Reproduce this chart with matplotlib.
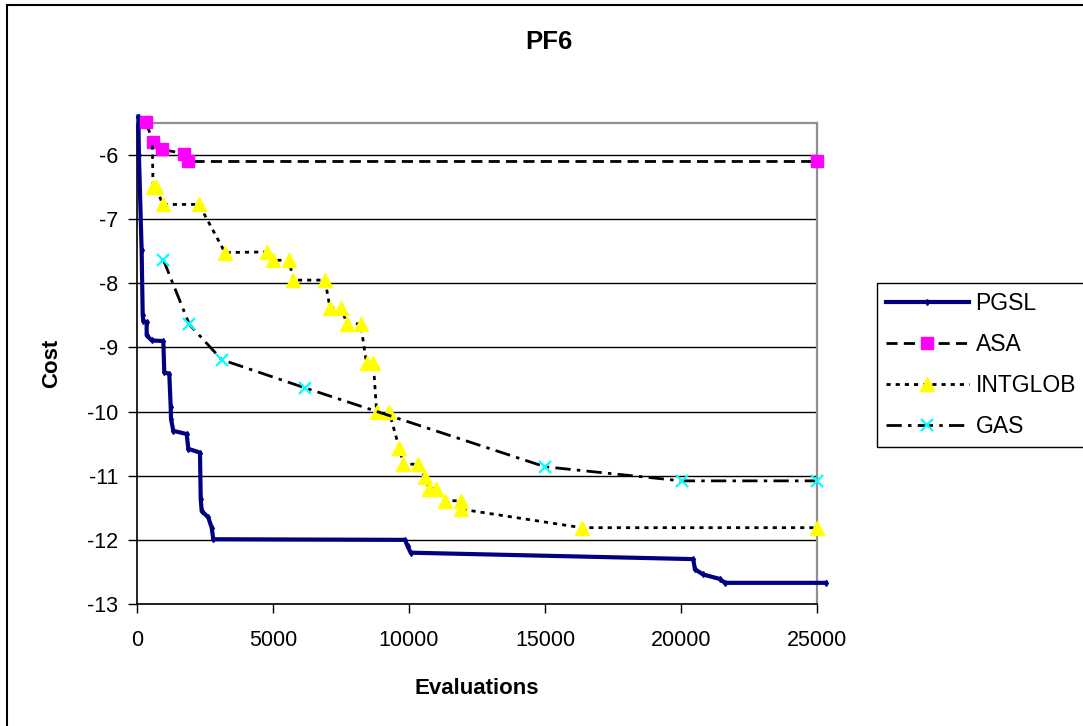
import matplotlib
matplotlib.use('Agg')
import matplotlib.pyplot as plt
from matplotlib.patches import Rectangle

plt.rcParams['font.family'] = ['Liberation Sans', 'DejaVu Sans']
plt.rcParams['axes.unicode_minus'] = False
plt.rcParams['lines.scale_dashes'] = False

# ---- data ----
pgsl_x = [50, 70, 170, 210, 230, 355, 355, 540, 967, 1004, 1187, 1239, 1250, 1334,
          1827, 1886, 2316, 2342, 2378, 2621, 2746, 2805, 9853, 9950, 10061,
          20450, 20512, 20817, 21430, 21615, 25330]
pgsl_y = [-5.4, -6.0, -7.48, -8.5, -8.58, -8.61, -8.81, -8.89, -8.90, -9.39, -9.41, -9.93,
          -10.11, -10.30, -10.35, -10.58, -10.64, -11.36, -11.55, -11.65, -11.81, -11.99,
          -12.0, -12.1, -12.2, -12.3, -12.46, -12.54, -12.61, -12.67, -12.67]

asa_x = [320, 600, 907, 1740, 1860, 25000]
asa_y = [-5.49, -5.79, -5.91, -5.98, -6.10, -6.10]

intglob_x = [563, 590, 700, 944, 2280, 3235, 4770, 4990, 5590, 5750, 6910, 7095, 7490,
             7730, 8220, 8440, 8690, 8811, 9275, 9642, 9789, 10341, 10587, 10734, 10991,
             11322, 11899, 11899, 16347, 25000]
intglob_y = [-5.85, -6.5, -6.5, -6.77, -6.77, -7.52, -7.51, -7.64, -7.64, -7.95, -7.95,
             -8.38, -8.38, -8.63, -8.63, -9.25, -9.25, -10.01, -10.01, -10.57, -10.82,
             -10.82, -11.02, -11.20, -11.20, -11.39, -11.39, -11.52, -11.81, -11.81]

gas_x = [967, 1923, 3113, 6176, 14998, 20022, 25000]
gas_y = [-7.63, -8.64, -9.19, -9.63, -10.86, -11.08, -11.08]

x_ticks = [0, 5000, 10000, 15000, 20000, 25000]
y_ticks = [-13, -12, -11, -10, -9, -8, -7, -6]

W, H = 1083, 726
fig = plt.figure(figsize=(W / 100, H / 100), dpi=100)
fig.patch.set_facecolor('white')
ax = fig.add_axes([137 / W, 1 - 604 / H, (817 - 137) / W, (604 - 123) / H])

ax.set_xlim(0, 25000)
ax.set_ylim(-13, -5.5)
ax.set_xticks(x_ticks)
ax.set_yticks(y_ticks)
ax.yaxis.grid(True, color='black', linewidth=1.0)
ax.set_axisbelow(True)

for s in ['left', 'bottom']:
    ax.spines[s].set_color('black')
    ax.spines[s].set_linewidth(1.2)
for s in ['top', 'right']:
    ax.spines[s].set_color('#909090')
    ax.spines[s].set_linewidth(1.6)

ax.tick_params(axis='both', direction='out', length=6.5, width=1, labelsize=15.5, colors='black')
ax.tick_params(axis='x', pad=12.5)
ax.tick_params(axis='y', pad=7)

ax.plot(pgsl_x, pgsl_y, color='#000080', linewidth=3, marker='d', markersize=3,
        label='PGSL', clip_on=False, zorder=3)
ax.plot(asa_x, asa_y, color='black', linewidth=2, dashes=(8, 4.5), marker='s',
        markersize=8.5, markerfacecolor='#FF00FF', markeredgecolor='#FF00FF',
        label='ASA', clip_on=False, zorder=4)
ax.plot(intglob_x, intglob_y, color='black', linewidth=2, dashes=(3, 3.6), marker='^',
        markersize=10.5, markerfacecolor='#FFFF00', markeredgecolor='#FFFF00',
        markevery=list(range(1, len(intglob_x))), label='INTGLOB', clip_on=False, zorder=5)
ax.plot(gas_x, gas_y, color='black', linewidth=2, dashes=(11, 4.5, 2.5, 4.5), marker='x',
        markersize=9, markeredgewidth=1.6, markeredgecolor='#00FFFF',
        label='GAS', clip_on=False, zorder=6)

ax.set_xlabel('Evaluations', fontsize=16, fontweight='bold', labelpad=19)
ax.set_ylabel('Cost', fontsize=16, fontweight='bold', labelpad=18)

fig.text(549 / W, 1 - 42 / H, 'PF6', fontsize=18.5, fontweight='bold', ha='center', va='center')

leg = ax.legend(loc='upper left', bbox_to_anchor=(877 / W, 1 - 283 / H),
                bbox_transform=fig.transFigure, borderaxespad=0, fancybox=False,
                edgecolor='black', framealpha=1, fontsize=16.5, handlelength=3.6,
                handletextpad=0.3, labelspacing=0.78, borderpad=0.4, numpoints=1)
leg.get_frame().set_linewidth(1.0)

# outer chart border
fig.add_artist(Rectangle((7 / W, -0.05), 1.2, 1.05 - 5 / H, transform=fig.transFigure,
                         fill=False, edgecolor='black', linewidth=1.5))

fig.savefig('out.png', dpi=100)
